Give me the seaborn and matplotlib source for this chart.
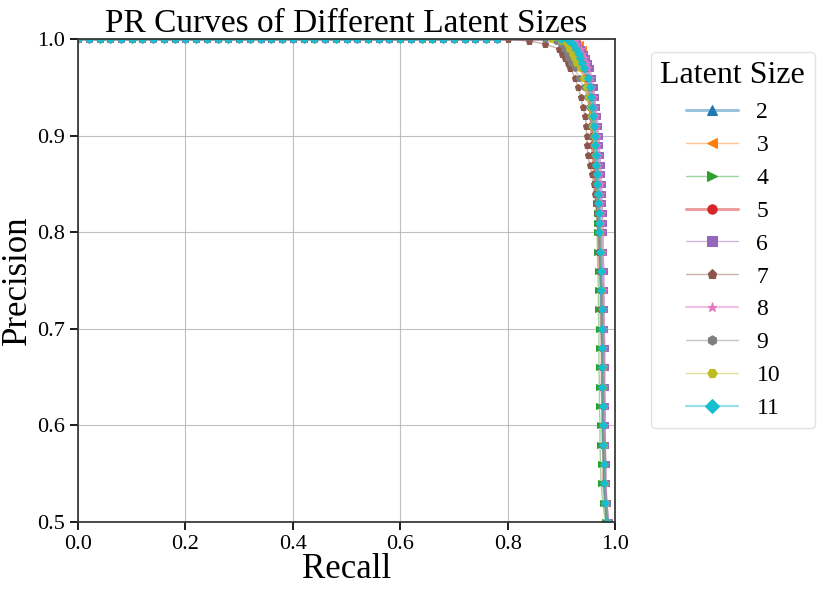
import matplotlib
matplotlib.use("Agg")
import matplotlib.pyplot as plt
import matplotlib.colors as mcolors
import seaborn as sns

# Recall values on the flat top part (precision = 1.0), shared by all curves
top_recall = [0.00, 0.02, 0.04, 0.06, 0.08, 0.10, 0.12, 0.14, 0.16, 0.18,
              0.20, 0.22, 0.24, 0.26, 0.28, 0.30, 0.32, 0.34, 0.36, 0.38,
              0.40, 0.42, 0.44, 0.46, 0.48, 0.50, 0.52, 0.54, 0.56, 0.58,
              0.60, 0.62, 0.64, 0.66, 0.68, 0.70, 0.72, 0.74, 0.76, 0.78]

# Precision levels on the knee / drop part
knee_prec = [1.0, 0.998, 0.995, 0.99, 0.985, 0.98, 0.975, 0.97, 0.96, 0.95,
             0.94, 0.93, 0.92, 0.91, 0.90, 0.89, 0.88, 0.87, 0.86, 0.85,
             0.84, 0.83, 0.82, 0.81, 0.80, 0.78, 0.76, 0.74, 0.72, 0.70,
             0.68, 0.66, 0.64, 0.62, 0.60, 0.58, 0.56, 0.54, 0.52, 0.50]

latent_sizes = ['2', '3', '4', '5', '6', '7', '8', '9', '10', '11']

recall_2 = [.910, .920, .927, .933, .937, .940, .943, .946, .952, .956,
            .958, .960, .962, .963, .965, .966, .967, .968, .969, .970,
            .971, .971, .972, .972, .973, .974, .975, .976, .976, .977,
            .978, .978, .978, .979, .979, .980, .981, .981, .983, .986]
recall_3 = [.920, .930, .935, .940, .943, .946, .948, .950, .954, .957,
            .959, .961, .963, .964, .965, .966, .967, .967, .968, .969,
            .970, .970, .971, .971, .972, .973, .974, .975, .975, .976,
            .976, .977, .977, .977, .978, .978, .979, .980, .982, .985]
recall_4 = [.905, .915, .922, .928, .932, .936, .939, .942, .947, .951,
            .953, .955, .957, .958, .959, .960, .961, .962, .963, .963,
            .964, .965, .966, .966, .967, .967, .968, .969, .969, .970,
            .970, .970, .971, .971, .972, .972, .973, .974, .977, .982]
recall_5 = [.900, .912, .920, .926, .930, .933, .936, .939, .944, .948,
            .951, .953, .955, .956, .957, .958, .959, .960, .962, .963,
            .965, .966, .968, .969, .970, .971, .972, .974, .974, .975,
            .976, .976, .976, .977, .977, .978, .979, .979, .982, .985]
recall_6 = [.915, .925, .930, .937, .942, .946, .950, .953, .957, .961,
            .962, .964, .967, .968, .970, .971, .972, .973, .974, .975,
            .976, .976, .977, .977, .978, .978, .979, .979, .980, .980,
            .981, .981, .981, .982, .982, .982, .983, .983, .985, .988]
recall_7 = [.800, .840, .870, .895, .902, .907, .912, .917, .925, .931,
            .936, .940, .945, .946, .947, .948, .949, .953, .957, .960,
            .962, .964, .966, .968, .969, .971, .972, .974, .975, .975,
            .976, .976, .976, .977, .977, .978, .979, .980, .982, .985]
recall_8 = [.915, .925, .930, .936, .940, .944, .947, .950, .955, .958,
            .961, .963, .965, .966, .968, .969, .970, .971, .972, .973,
            .974, .974, .975, .975, .976, .977, .978, .979, .979, .979,
            .980, .980, .980, .981, .981, .981, .982, .982, .984, .987]
recall_9 = [.870, .890, .900, .905, .910, .913, .918, .925, .933, .942,
            .948, .952, .954, .956, .958, .959, .961, .962, .964, .965,
            .967, .968, .969, .970, .971, .972, .973, .974, .975, .975,
            .976, .976, .977, .977, .977, .978, .979, .980, .982, .985]
recall_10 = [.880, .900, .910, .915, .920, .924, .928, .934, .940, .946,
             .950, .953, .956, .958, .960, .961, .963, .964, .966, .967,
             .968, .969, .970, .971, .972, .973, .974, .975, .975, .976,
             .976, .977, .977, .978, .978, .979, .980, .981, .983, .986]
recall_11 = [.900, .915, .922, .928, .932, .935, .938, .942, .950, .954,
             .956, .958, .959, .960, .962, .963, .964, .965, .966, .967,
             .968, .969, .970, .970, .971, .972, .973, .974, .975, .975,
             .976, .976, .976, .977, .977, .978, .979, .980, .982, .985]

knee_recalls = [recall_2, recall_3, recall_4, recall_5, recall_6,
                recall_7, recall_8, recall_9, recall_10, recall_11]

markers = ['^', '<', '>', 'o', 's', 'p', '*', 'h', 'H', 'D']
line_widths = [2.2, 1.0, 1.0, 2.2, 1.0, 1.0, 1.6, 1.0, 1.0, 1.6]
palette = sns.color_palette('tab10', 10)

sns.set_theme(style='ticks')
plt.rcParams['font.family'] = ['Liberation Serif', 'DejaVu Serif']
plt.rcParams['text.color'] = 'black'
plt.rcParams['axes.labelcolor'] = 'black'

fig = plt.figure(figsize=(8.3, 5.93), dpi=100)
ax = fig.add_axes([0.094, 0.12, 0.647, 0.814])

for name, rec, mk, lw, col in zip(latent_sizes, knee_recalls, markers, line_widths, palette):
    xs = top_recall + rec
    ys = [1.0] * len(top_recall) + knee_prec
    line_col = mcolors.to_rgba(col, 0.45)
    sns.lineplot(x=xs, y=ys, ax=ax, sort=False, estimator=None,
                 color=line_col, linewidth=lw, marker=mk, markersize=4.5,
                 markerfacecolor=col, markeredgecolor=col, label=name)

ax.set_xlim(0, 1)
ax.set_ylim(0.5, 1.0)
ax.set_xticks([0.0, 0.2, 0.4, 0.6, 0.8, 1.0])
ax.set_yticks([0.5, 0.6, 0.7, 0.8, 0.9, 1.0])
ax.grid(True, color='#b0b0b0', linewidth=0.8, alpha=0.8)
for sp in ax.spines.values():
    sp.set_color('#333333')
ax.tick_params(labelsize=16, colors='black')
ax.set_title('PR Curves of Different Latent Sizes', fontsize=24, pad=2, color='black')
ax.set_xlabel('Recall', fontsize=25, labelpad=-1)
ax.set_ylabel('Precision', fontsize=25, labelpad=2)

leg = ax.legend(title='Latent Size', loc='upper left', bbox_to_anchor=(1.045, 0.998),
                fontsize=17, title_fontsize=23, markerscale=1.5,
                labelspacing=0.48, handlelength=2.2, frameon=True)
leg.get_frame().set_edgecolor('#dddddd')

fig.savefig('out.png', dpi=100)
